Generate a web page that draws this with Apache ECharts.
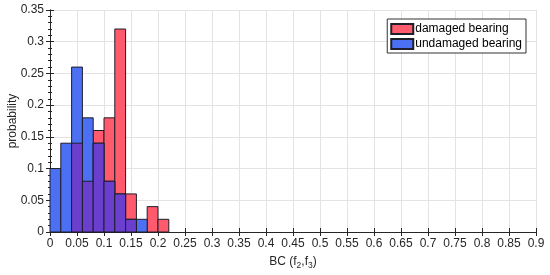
<!DOCTYPE html>
<html>
<head>
<meta charset="utf-8">
<script src="https://cdn.jsdelivr.net/npm/echarts@6/dist/echarts.min.js"></script>
<style>
html, body { margin: 0; padding: 0; background: #fff; }
#main { width: 550px; height: 275px; }
</style>
</head>
<body>
<div id="main"></div>
<script>
// bin edges (width 0.02) and probabilities per bin
var binEdges = [0, 0.02, 0.04, 0.06, 0.08, 0.10, 0.12, 0.14, 0.16, 0.18, 0.20, 0.22];
var damaged = [0, 0, 0.14, 0.08, 0.16, 0.18, 0.32, 0.06, 0, 0.04, 0.02];
var undamaged = [0.10, 0.14, 0.26, 0.18, 0.14, 0.08, 0.06, 0.02, 0.02, 0, 0];
var seriesNames = ['damaged bearing', 'undamaged bearing'];

var RED = '#ff5b6d';
var BLUE = '#4c70f4';
var PURPLE = '#6a3fce';
var EDGE = '#1e1e2a';
var FONT = 'Liberation Sans';

function toBins(vals) {
	var out = [];
	for (var i = 0; i < vals.length; i++) {
		if (vals[i] > 0) out.push([binEdges[i], binEdges[i + 1], vals[i]]);
	}
	return out;
}

// part where both histograms overlap (drawn purple)
var overlap = [];
for (var i = 0; i < damaged.length; i++) {
	overlap.push(Math.min(damaged[i], undamaged[i]));
}

function renderBar(fill) {
	return function (params, api) {
		var p0 = api.coord([api.value(0), api.value(2)]);
		var p1 = api.coord([api.value(1), 0]);
		return {
			type: 'rect',
			shape: { x: p0[0], y: p0[1], width: p1[0] - p0[0], height: p1[1] - p0[1] },
			style: { fill: fill, stroke: EDGE, lineWidth: 1 }
		};
	};
}

var axisText = { color: '#262626', fontSize: 12, fontFamily: FONT };
var tickStyle = { show: true, inside: true, length: 4, lineStyle: { color: '#262626' } };
var minorStyle = { show: true, splitNumber: 5, length: 2, lineStyle: { color: '#262626' } };

window.onload = () => {
	var myChart = echarts.init(document.getElementById('main'));

	var option = {
		animation: false,
		backgroundColor: '#fff',
		grid: { left: 50, right: 14, top: 10, bottom: 43, outerBoundsMode: 'none' },
		legend: {
			orient: 'vertical',
			right: 24,
			top: 19,
			data: seriesNames,
			icon: 'rect',
			itemWidth: 22,
			itemHeight: 10,
			itemGap: 1,
			padding: [3, 4, 2, 3],
			borderColor: '#333',
			borderWidth: 1,
			backgroundColor: '#fff',
			textStyle: { color: '#000', fontSize: 12, lineHeight: 14, fontFamily: FONT, padding: [0, 0, 0, -3] }
		},
		xAxis: [{
			type: 'value',
			min: 0, max: 0.9, interval: 0.05,
			name: 'BC (f{s|2},f{s|3})',
			nameLocation: 'middle',
			nameGap: 22,
			nameMoveOverlap: false,
			nameTextStyle: {
				color: '#262626', fontSize: 12, fontFamily: FONT,
				rich: { s: { fontSize: 8.5, fontFamily: FONT, color: '#262626', verticalAlign: 'bottom', padding: [7, 0, 0, 0] } }
			},
			axisLine: { show: true, lineStyle: { color: '#262626' } },
			axisTick: tickStyle,
			axisLabel: Object.assign({ margin: 6 }, axisText),
			splitLine: { show: true, lineStyle: { color: '#e3e3e3' } }
		}, {
			type: 'value', position: 'top',
			min: 0, max: 0.9, interval: 0.05,
			axisLine: { show: true, lineStyle: { color: '#262626' } },
			axisTick: tickStyle,
			axisLabel: { show: false },
			splitLine: { show: false }
		}],
		yAxis: [{
			type: 'value',
			min: 0, max: 0.35, interval: 0.05,
			name: 'probability',
			nameLocation: 'middle',
			nameGap: 31,
			nameMoveOverlap: false,
			nameTextStyle: { color: '#262626', fontSize: 12, fontFamily: FONT },
			axisLine: { show: true, lineStyle: { color: '#262626' } },
			axisTick: tickStyle,
			minorTick: minorStyle,
			axisLabel: Object.assign({ margin: 6 }, axisText),
			splitLine: { show: true, lineStyle: { color: '#e3e3e3' } }
		}, {
			type: 'value', position: 'right',
			min: 0, max: 0.35, interval: 0.05,
			axisLine: { show: true, lineStyle: { color: '#262626' } },
			axisTick: tickStyle,
			minorTick: minorStyle,
			axisLabel: { show: false },
			splitLine: { show: false }
		}],
		series: [{
			name: seriesNames[0],
			type: 'custom',
			renderItem: renderBar(RED),
			itemStyle: { color: RED, borderColor: EDGE, borderWidth: 1 },
			encode: { x: [0, 1], y: 2 },
			data: toBins(damaged),
			z: 2
		}, {
			name: seriesNames[1],
			type: 'custom',
			renderItem: renderBar(BLUE),
			itemStyle: { color: BLUE, borderColor: EDGE, borderWidth: 1 },
			encode: { x: [0, 1], y: 2 },
			data: toBins(undamaged),
			z: 3
		}, {
			name: 'overlap',
			type: 'custom',
			renderItem: renderBar(PURPLE),
			encode: { x: [0, 1], y: 2 },
			data: toBins(overlap),
			z: 4
		}]
	};

	myChart.setOption(option);
};
</script>
</body>
</html>
